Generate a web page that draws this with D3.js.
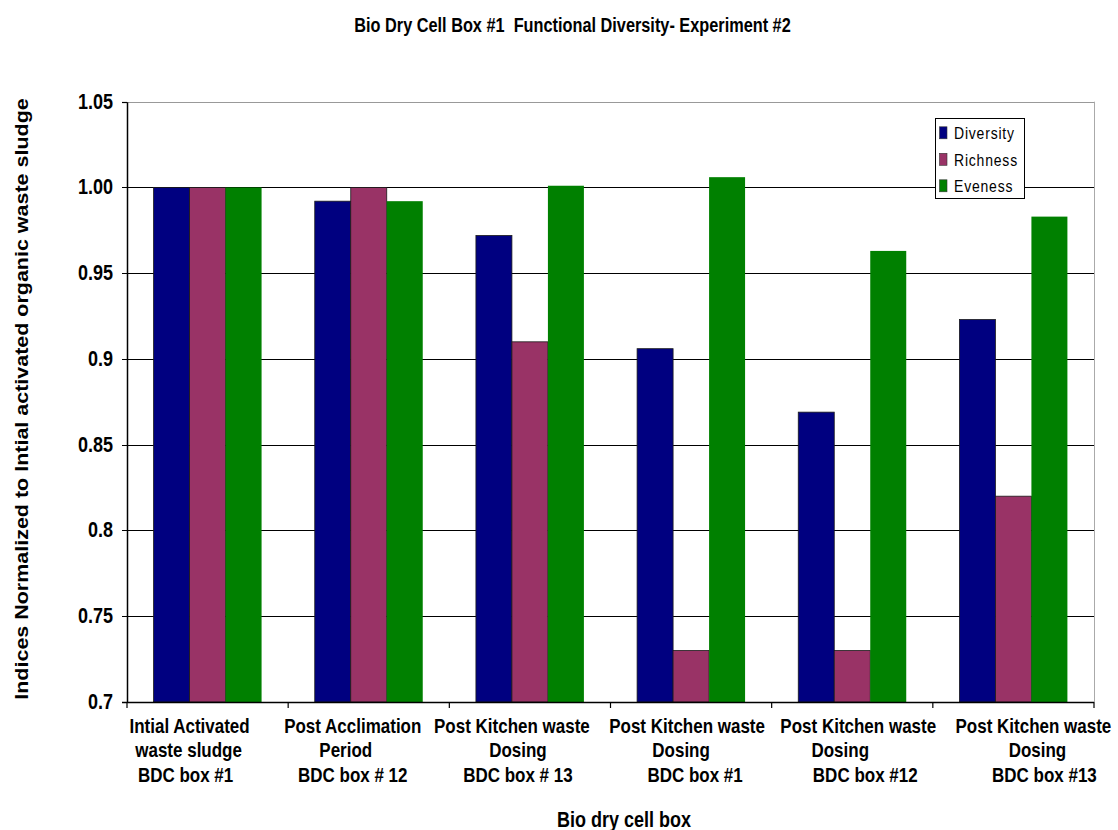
<!DOCTYPE html>
<html>
<head>
<meta charset="utf-8">
<script src="https://cdn.jsdelivr.net/npm/d3@7"></script>
<style>
  html, body { margin: 0; padding: 0; background: #fff; }
  svg { display: block; font-family: Arial, "Liberation Sans", sans-serif; }
  text { white-space: pre; }
</style>
</head>
<body>
<svg id="chart" width="1118" height="830"></svg>
<script>
// ---- data ----
const categories = [
  ["Intial Activated", "waste sludge", "BDC box #1"],
  ["Post Acclimation", "Period", "BDC box # 12"],
  ["Post Kitchen waste", "Dosing", "BDC box # 13"],
  ["Post Kitchen waste", "Dosing", "BDC box #1"],
  ["Post Kitchen waste", "Dosing", "BDC box #12"],
  ["Post Kitchen waste", "Dosing", "BDC box #13"]
];
const seriesNames = ["Diversity", "Richness", "Eveness"];
const diversity = [1.000, 0.992, 0.972, 0.906, 0.869, 0.923];
const richness  = [1.000, 1.000, 0.910, 0.730, 0.730, 0.820];
const eveness   = [1.000, 0.992, 1.001, 1.006, 0.963, 0.983];
const yTickValues = [0.7, 0.75, 0.8, 0.85, 0.9, 0.95, 1.0, 1.05];
const yTickLabels = ["0.7", "0.75", "0.8", "0.85", "0.9", "0.95", "1.00", "1.05"];
const titleText = "Bio Dry Cell Box #1  Functional Diversity- Experiment #2";
const xTitleText = "Bio dry cell box";
const yTitleText = "Indices Normalized to Intial activated organic waste sludge";

// ---- layout / style ----
const colors = ["#000080", "#993366", "#008000"];
const plot = { left: 127, right: 1094, top: 101.7, bottom: 702 };
const stretch = 1.2; // vertical stretch of text in the original picture
// per-line horizontal offsets of category labels (as laid out in the original)
const labelDx = [
  [-18, -19, -22], [-16, -23, -16], [-18, -12, -12],
  [-4, -10, 4], [6, -12, 13], [20, 24, 31]
];

const svg = d3.select("#chart");
const series = [diversity, richness, eveness];

const x0 = d3.scaleBand()
  .domain(d3.range(categories.length))
  .range([plot.left, plot.right])
  .paddingInner(0.33)
  .paddingOuter(0.165);
const x1 = d3.scaleBand()
  .domain(d3.range(seriesNames.length))
  .range([0, x0.bandwidth()]);
const y = d3.scaleLinear().domain([0.7, 1.05]).range([plot.bottom, plot.top]);

// gridlines (behind bars)
const grid = svg.append("g");
grid.selectAll("line").data(yTickValues.filter(v => v > 0.7 && v < 1.05)).enter()
  .append("line")
  .attr("x1", plot.left - 5).attr("x2", plot.right)
  .attr("y1", d => Math.round(y(d)) + 0.5).attr("y2", d => Math.round(y(d)) + 0.5)
  .attr("stroke", "#000").attr("stroke-width", 1.1);
// top border & right border (gray)
svg.append("line")
  .attr("x1", plot.left).attr("x2", plot.right + 1)
  .attr("y1", Math.round(y(1.05)) + 0.5).attr("y2", Math.round(y(1.05)) + 0.5)
  .attr("stroke", "#999").attr("stroke-width", 1.2);
svg.append("line")
  .attr("x1", plot.left - 5).attr("x2", plot.left)
  .attr("y1", Math.round(y(1.05)) + 0.5).attr("y2", Math.round(y(1.05)) + 0.5)
  .attr("stroke", "#000").attr("stroke-width", 1.2);
svg.append("line")
  .attr("x1", plot.right + 0.5).attr("x2", plot.right + 0.5)
  .attr("y1", y(1.05)).attr("y2", plot.bottom)
  .attr("stroke", "#aaa").attr("stroke-width", 1);

// bars
const groups = svg.append("g").selectAll("g")
  .data(categories.map((c, i) => i)).enter()
  .append("g")
  .attr("transform", i => `translate(${x0(i)},0)`);
groups.selectAll("rect")
  .data(i => series.map((s, k) => ({ k, v: s[i] })))
  .enter().append("rect")
  .attr("x", d => x1(d.k))
  .attr("width", x1.bandwidth())
  .attr("y", d => y(d.v))
  .attr("height", d => y(0.7) - y(d.v))
  .attr("fill", d => colors[d.k])
  .attr("stroke", d => d.k === 2 ? "none" : "#1a1a1a")
  .attr("stroke-width", 0.8);

// y axis
const yAxis = d3.axisLeft(y).tickValues(yTickValues)
  .tickFormat((d, i) => yTickLabels[i]).tickSize(5).tickSizeOuter(0);
const gy = svg.append("g").attr("transform", `translate(${plot.left},0)`).call(yAxis);
gy.select(".domain").attr("stroke", "#000").attr("stroke-width", 1.5);
gy.selectAll(".tick line").remove();
gy.selectAll(".tick").each(function (d) {
  const g = d3.select(this);
  const txt = g.select("text").text();
  g.select("text").remove();
  g.append("text")
    .attr("transform", `translate(-14,${6.5}) scale(1,${stretch})`)
    .attr("text-anchor", "end")
    .attr("font-size", 18).attr("font-weight", "bold").attr("fill", "#000")
    .text(txt);
});

// x axis
const gx = svg.append("g").attr("transform", `translate(0,${plot.bottom})`);
gx.append("line").attr("x1", plot.left - 5).attr("x2", plot.right)
  .attr("y1", 0.5).attr("y2", 0.5).attr("stroke", "#000").attr("stroke-width", 1.5);
const boundaries = d3.range(categories.length + 1).map(i =>
  i < categories.length ? x0(i) - x0.step() * x0.paddingOuter() : plot.right);
gx.selectAll("line.tk").data(boundaries).enter().append("line")
  .attr("class", "tk")
  .attr("x1", d => d).attr("x2", d => d)
  .attr("y1", 0).attr("y2", 6).attr("stroke", "#000").attr("stroke-width", 1.2);

// category labels
categories.forEach((lines, i) => {
  const cx = x0(i) + x0.bandwidth() / 2;
  lines.forEach((ln, j) => {
    svg.append("text")
      .attr("transform", `translate(${cx + labelDx[i][j]},${733 + j * 24.3}) scale(1,${stretch})`)
      .attr("text-anchor", "middle")
      .attr("font-size", 17).attr("font-weight", "bold").attr("fill", "#000")
      .text(ln);
  });
});

// title
svg.append("text")
  .attr("transform", `translate(572.5,31.5) scale(1,${stretch})`)
  .attr("text-anchor", "middle")
  .attr("font-size", 16.3).attr("font-weight", "bold").attr("fill", "#000")
  .text(titleText);

// x title
svg.append("text")
  .attr("transform", `translate(624,826.5) scale(1,${stretch})`)
  .attr("text-anchor", "middle")
  .attr("font-size", 18).attr("font-weight", "bold").attr("fill", "#000")
  .text(xTitleText);

// y title
svg.append("text")
  .attr("transform", `translate(28,399) scale(1,${stretch}) rotate(-90)`)
  .attr("text-anchor", "middle")
  .attr("font-size", 17.9).attr("font-weight", "bold").attr("fill", "#000")
  .text(yTitleText);

// legend
const leg = svg.append("g");
leg.append("rect").attr("x", 935.5).attr("y", 118.5).attr("width", 89).attr("height", 80)
  .attr("fill", "#fff").attr("stroke", "#000").attr("stroke-width", 1);
seriesNames.forEach((name, k) => {
  const base = 139.3 + k * 26.5;
  leg.append("rect").attr("x", 939.5).attr("y", base - 12.5).attr("width", 7.5).attr("height", 12)
    .attr("fill", colors[k]).attr("stroke", "#333").attr("stroke-width", 0.6);
  leg.append("text")
    .attr("transform", `translate(954,${base}) scale(1,${stretch})`)
    .attr("font-size", 14).attr("letter-spacing", 0.8).attr("fill", "#000")
    .text(name);
});
</script>
</body>
</html>
